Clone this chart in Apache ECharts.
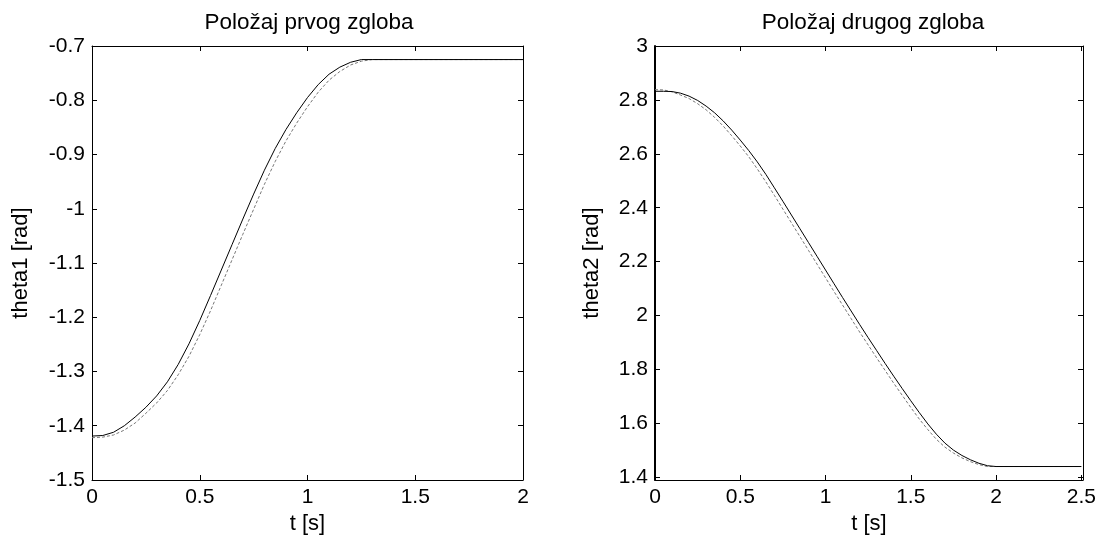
<!DOCTYPE html>
<html>
<head>
<meta charset="utf-8">
<script src="https://cdn.jsdelivr.net/npm/echarts@6/dist/echarts.min.js"></script>
<style>
html,body{margin:0;padding:0;background:#fff;}
#main{width:1105px;height:541px;}
</style>
</head>
<body>
<div id="main"></div>
<script>
var FONT = '"Liberation Sans", Arial, Helvetica, sans-serif';

// prvi zglob
var t1 = [0, 0.05, 0.1, 0.15, 0.2, 0.25, 0.3, 0.35, 0.4, 0.45, 0.5, 0.55, 0.6, 0.65,
    0.7, 0.75, 0.8, 0.85, 0.9, 0.95, 1.0, 1.05, 1.1, 1.15, 1.2, 1.25, 1.3, 2.0];
var theta1 = [-1.419, -1.418, -1.412, -1.400, -1.384, -1.366, -1.345, -1.319, -1.287, -1.249,
    -1.206, -1.160, -1.113, -1.066, -1.019, -0.973, -0.929, -0.889, -0.854, -0.823,
    -0.795, -0.771, -0.752, -0.739, -0.730, -0.725, -0.725, -0.725];
var theta1Ref = [-1.422, -1.421, -1.417, -1.408, -1.395, -1.377, -1.358, -1.335, -1.306, -1.272,
    -1.232, -1.188, -1.141, -1.094, -1.047, -1.001, -0.955, -0.913, -0.875, -0.842,
    -0.812, -0.785, -0.763, -0.747, -0.735, -0.728, -0.725, -0.725];

// drugi zglob
var t2 = [0, 0.05, 0.1, 0.15, 0.2, 0.25, 0.3, 0.35, 0.4, 0.45, 0.5, 0.55, 0.6, 0.65,
    0.7, 0.75, 0.8, 0.85, 0.9, 0.95, 1.0, 1.05, 1.1, 1.15, 1.2, 1.25, 1.3, 1.35,
    1.4, 1.45, 1.5, 1.55, 1.6, 1.65, 1.7, 1.75, 1.8, 1.85, 1.9, 1.95, 2.0, 2.5];
var theta2 = [2.832, 2.832, 2.831, 2.825, 2.814, 2.798, 2.777, 2.752, 2.722, 2.688,
    2.651, 2.612, 2.570, 2.524, 2.474, 2.424, 2.373, 2.322, 2.271, 2.220,
    2.169, 2.118, 2.067, 2.017, 1.967, 1.918, 1.870, 1.822, 1.775, 1.729,
    1.684, 1.640, 1.598, 1.560, 1.527, 1.501, 1.481, 1.465, 1.452, 1.443, 1.440, 1.440];
var theta2Ref = [2.838, 2.837, 2.830, 2.818, 2.805, 2.786, 2.763, 2.735, 2.703, 2.667,
    2.629, 2.589, 2.544, 2.496, 2.446, 2.395, 2.344, 2.293, 2.242, 2.191,
    2.140, 2.089, 2.039, 1.989, 1.939, 1.891, 1.843, 1.796, 1.749, 1.704,
    1.659, 1.616, 1.577, 1.541, 1.512, 1.490, 1.472, 1.458, 1.447, 1.440, 1.440, 1.440];

// podjele osa
var xTicks1 = [0, 0.5, 1, 1.5, 2];
var yTicks1 = [-1.5, -1.4, -1.3, -1.2, -1.1, -1, -0.9, -0.8, -0.7];
var xTicks2 = [0, 0.5, 1, 1.5, 2, 2.5];
var yTicks2 = [1.4, 1.6, 1.8, 2, 2.2, 2.4, 2.6, 2.8, 3];

function pairs(xs, ys){
    var out = [];
    for(var i=0;i<xs.length;i++){
        out.push([xs[i], ys[i]]);
    }
    return out;
}

//ose u matlab stilu (kvacice sa unutrasnje strane, sa sve cetiri strane)
function axisBase(gi, pos, min, max, ticks, labels, w){
    return {
        type: 'value', gridIndex: gi, position: pos, min: min, max: max,
        axisLine: {show: true, onZero: false, lineStyle: {color: '#000', width: w}},
        axisTick: {show: true, inside: true, length: 5, customValues: ticks, lineStyle: {color: '#000'}},
        axisLabel: {show: labels, customValues: ticks, color: '#000', fontFamily: FONT, fontSize: 21, margin: 7},
        splitLine: {show: false}
    };
}

function xAxes(gi, min, max, ticks, name){
    var bottom = axisBase(gi, 'bottom', min, max, ticks, true, 1);
    bottom.name = name;
    bottom.nameLocation = 'middle';
    bottom.nameGap = 31;
    bottom.nameTextStyle = {color: '#000', fontFamily: FONT, fontSize: 22};
    return [bottom, axisBase(gi, 'top', min, max, ticks, false, 1)];
}

function yAxes(gi, min, max, ticks, name, gap, lineW){
    var left = axisBase(gi, 'left', min, max, ticks, true, lineW);
    left.name = name;
    left.nameLocation = 'middle';
    left.nameGap = gap;
    left.nameTextStyle = {color: '#000', fontFamily: FONT, fontSize: 22};
    return [left, axisBase(gi, 'right', min, max, ticks, false, 1)];
}

var xa = xAxes(0, 0, 2, xTicks1, 't [s]').concat(xAxes(1, 0, 2.51, xTicks2, 't [s]'));
var ya = yAxes(0, -1.5, -0.7, yTicks1, 'theta1 [rad]', 60, 1).concat(yAxes(1, 1.39, 3, yTicks2, 'theta2 [rad]', 52, 2));

function line(xi, yi, data, dashed){
    return {
        type: 'line', xAxisIndex: xi, yAxisIndex: yi, data: data,
        showSymbol: false, symbol: 'none', animation: false, silent: true,
        lineStyle: dashed ? {color: '#777', width: 1, type: [3, 2]} : {color: '#000', width: 1}
    };
}

var chart = echarts.init(document.getElementById('main'));
chart.setOption({
    backgroundColor: '#fff',
    animation: false,
    title: [
        {text: 'Položaj prvog zgloba', left: 304, top: 6, textAlign: 'center',
            textStyle: {fontSize: 22.5, fontWeight: 'normal', color: '#000', fontFamily: FONT}},
        {text: 'Položaj drugog zgloba', left: 868, top: 6, textAlign: 'center',
            textStyle: {fontSize: 22.5, fontWeight: 'normal', color: '#000', fontFamily: FONT}}
    ],
    grid: [
        {left: 92, top: 46, width: 431, height: 434},
        {left: 655, top: 46, width: 428, height: 434}
    ],
    xAxis: xa,
    yAxis: ya,
    series: [
        line(0, 0, pairs(t1, theta1Ref), true),
        line(0, 0, pairs(t1, theta1), false),
        line(2, 2, pairs(t2, theta2Ref), true),
        line(2, 2, pairs(t2, theta2), false)
    ]
});
</script>
</body>
</html>
